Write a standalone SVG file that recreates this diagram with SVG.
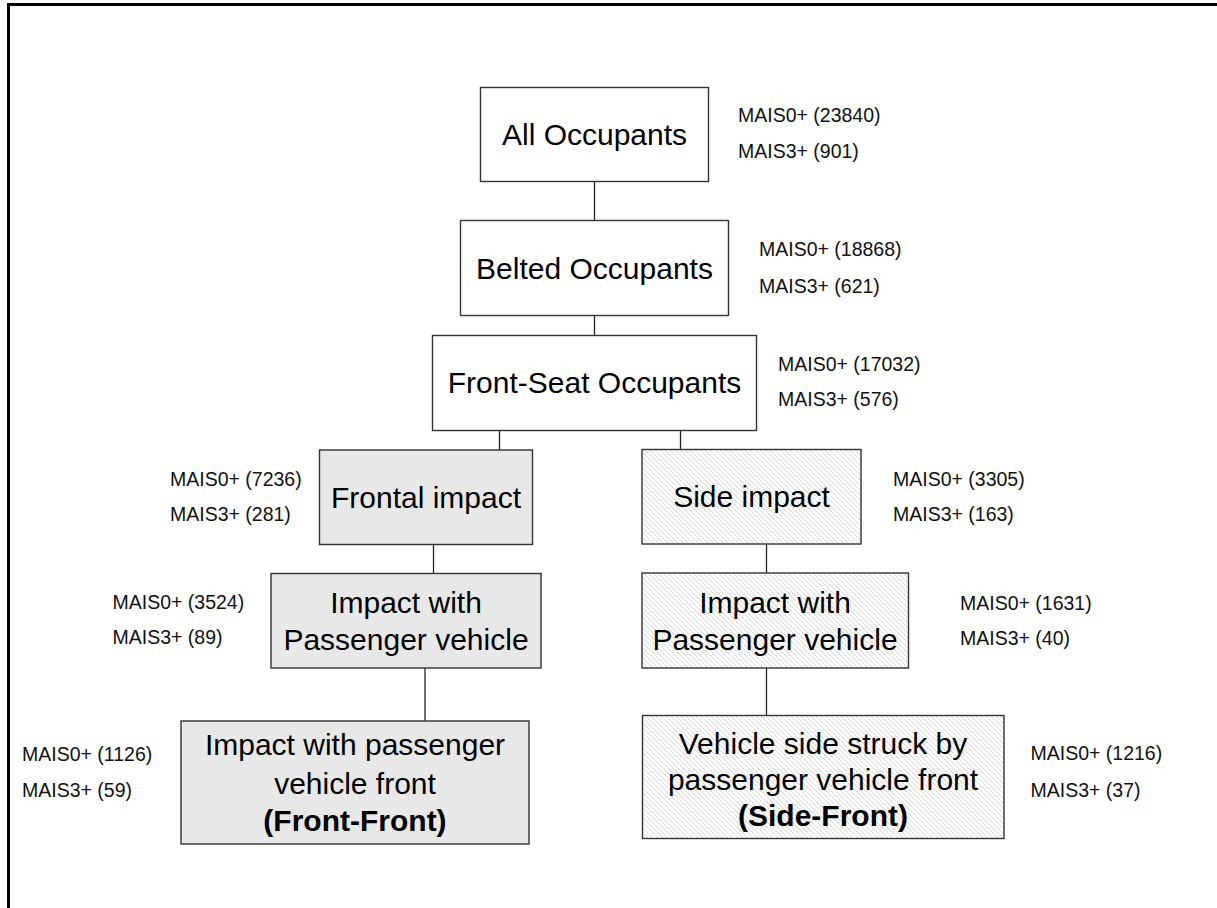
<svg xmlns="http://www.w3.org/2000/svg" width="1217" height="908" viewBox="0 0 1217 908">
<style>
.box{stroke:#333;stroke-width:1.4}
.plain{fill:#fff}
.grey{fill:#e8e8e8}
.hatch{fill:url(#hatch)}
.t{font-family:"Liberation Sans",Arial,sans-serif;font-size:30px;fill:#000;text-anchor:middle}
.b{font-weight:bold}
.m{font-family:"Liberation Sans",Arial,sans-serif;font-size:19.5px;fill:#111}
.c{stroke:#222;stroke-width:1.3;fill:none}
</style>
<defs>
<pattern id="hatch" patternUnits="userSpaceOnUse" width="5" height="5">
<rect width="5" height="5" fill="#fff"/>
<path d="M-1,-1 L6,6 M-1,4 L1,6 M4,-1 L6,1" stroke="#d6d6d6" stroke-width="1"/>
</pattern>
</defs>
<rect width="1217" height="908" fill="#fff"/>
<g id="frame">
<line x1="7" y1="4.5" x2="1217" y2="4.5" stroke="#000" stroke-width="3"/>
<line x1="8.5" y1="3" x2="8.5" y2="908" stroke="#000" stroke-width="3"/>
</g>
<g id="connectors">
<line class="c" x1="594.5" y1="182" x2="594.5" y2="220"/>
<line class="c" x1="594.5" y1="316" x2="594.5" y2="335"/>
<line class="c" x1="499.5" y1="430" x2="499.5" y2="450"/>
<line class="c" x1="680.5" y1="430" x2="680.5" y2="450"/>
<line class="c" x1="433.5" y1="544" x2="433.5" y2="573"/>
<line class="c" x1="766.5" y1="544" x2="766.5" y2="573"/>
<line class="c" x1="425" y1="668" x2="425" y2="721"/>
<line class="c" x1="766.5" y1="668" x2="766.5" y2="715"/>
</g>
<g id="all">
<rect class="box plain" x="480.5" y="87.5" width="228" height="94"/>
<text class="t" x="594.5" y="145">All Occupants</text>
<text class="m" x="738" y="122">MAIS0+ (23840)</text>
<text class="m" x="738" y="158">MAIS3+ (901)</text>
</g>
<g id="belted">
<rect class="box plain" x="460.5" y="220.5" width="268" height="95"/>
<text class="t" x="594.5" y="279">Belted Occupants</text>
<text class="m" x="759" y="256">MAIS0+ (18868)</text>
<text class="m" x="759" y="292.5">MAIS3+ (621)</text>
</g>
<g id="frontseat">
<rect class="box plain" x="432.5" y="335.5" width="324" height="95"/>
<text class="t" x="594.5" y="393">Front-Seat Occupants</text>
<text class="m" x="778" y="371">MAIS0+ (17032)</text>
<text class="m" x="778" y="405.5">MAIS3+ (576)</text>
</g>
<g id="frontal">
<rect class="box grey" x="319.5" y="450" width="213" height="94.5"/>
<text class="t" x="426" y="508">Frontal impact</text>
<text class="m" x="170" y="485.5">MAIS0+ (7236)</text>
<text class="m" x="170" y="521">MAIS3+ (281)</text>
</g>
<g id="side">
<rect class="box hatch" x="642" y="449.5" width="219" height="94.5"/>
<text class="t" x="751.5" y="507">Side impact</text>
<text class="m" x="893" y="485.5">MAIS0+ (3305)</text>
<text class="m" x="893" y="521">MAIS3+ (163)</text>
</g>
<g id="frontal-pv">
<rect class="box grey" x="271" y="573.5" width="270" height="94.5"/>
<text class="t" x="406" y="613">Impact with</text>
<text class="t" x="406" y="650">Passenger vehicle</text>
<text class="m" x="112.5" y="608.5">MAIS0+ (3524)</text>
<text class="m" x="112.5" y="643.5">MAIS3+ (89)</text>
</g>
<g id="side-pv">
<rect class="box hatch" x="642" y="573" width="266.5" height="95"/>
<text class="t" x="775" y="613">Impact with</text>
<text class="t" x="775" y="650">Passenger vehicle</text>
<text class="m" x="960" y="609.5">MAIS0+ (1631)</text>
<text class="m" x="960" y="645">MAIS3+ (40)</text>
</g>
<g id="front-front">
<rect class="box grey" x="181" y="721" width="348" height="123"/>
<text class="t" x="355" y="755">Impact with passenger</text>
<text class="t" x="355" y="793.5">vehicle front</text>
<text class="t b" x="355" y="831">(Front-Front)</text>
<text class="m" x="22" y="761">MAIS0+ (1126)</text>
<text class="m" x="22" y="796.5">MAIS3+ (59)</text>
</g>
<g id="side-front">
<rect class="box hatch" x="642.5" y="715.5" width="361.5" height="123"/>
<text class="t" x="823" y="753.5">Vehicle side struck by</text>
<text class="t" x="823" y="790">passenger vehicle front</text>
<text class="t b" x="823" y="826">(Side-Front)</text>
<text class="m" x="1030.5" y="760">MAIS0+ (1216)</text>
<text class="m" x="1030.5" y="796.5">MAIS3+ (37)</text>
</g>
</svg>
